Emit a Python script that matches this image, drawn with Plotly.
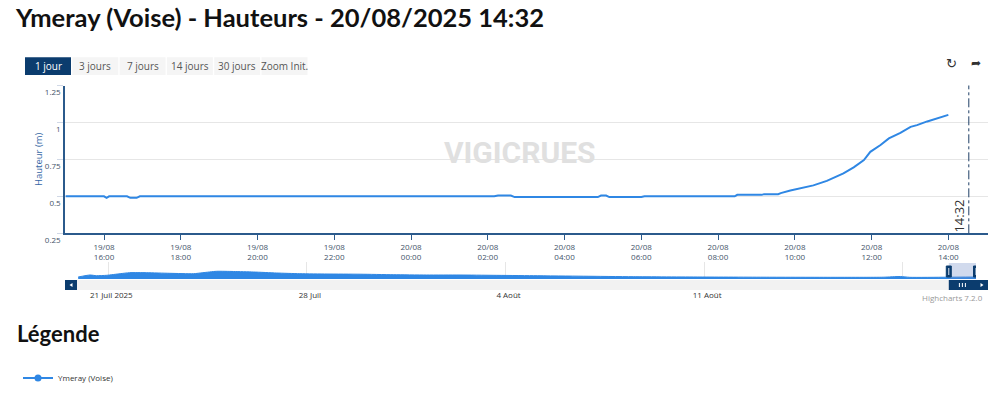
import plotly.graph_objects as go
import pandas as pd

# ---------------- data ----------------
times = [
    "2025-08-19 15:00", "2025-08-19 16:00", "2025-08-19 16:04", "2025-08-19 16:08",
    "2025-08-19 16:36", "2025-08-19 16:41", "2025-08-19 16:51", "2025-08-19 16:56",
    "2025-08-20 02:10", "2025-08-20 02:16", "2025-08-20 02:36", "2025-08-20 02:42",
    "2025-08-20 04:52", "2025-08-20 04:57", "2025-08-20 05:05", "2025-08-20 05:10",
    "2025-08-20 06:00", "2025-08-20 06:05", "2025-08-20 08:26", "2025-08-20 08:30",
    "2025-08-20 09:08", "2025-08-20 09:12", "2025-08-20 09:34", "2025-08-20 09:38",
    "2025-08-20 09:53", "2025-08-20 10:08", "2025-08-20 10:29", "2025-08-20 10:50",
    "2025-08-20 11:16", "2025-08-20 11:32", "2025-08-20 11:48", "2025-08-20 11:58",
    "2025-08-20 12:14", "2025-08-20 12:27", "2025-08-20 12:45", "2025-08-20 13:01",
    "2025-08-20 13:11", "2025-08-20 13:27", "2025-08-20 13:48", "2025-08-20 14:00",
]
heights = [
    0.500, 0.500, 0.490, 0.500,
    0.500, 0.490, 0.490, 0.500,
    0.500, 0.505, 0.505, 0.495,
    0.495, 0.505, 0.505, 0.495,
    0.495, 0.500, 0.500, 0.510,
    0.510, 0.515, 0.515, 0.522,
    0.540, 0.554, 0.574, 0.605,
    0.655, 0.696, 0.745, 0.801,
    0.847, 0.892, 0.930, 0.970,
    0.982, 1.007, 1.034, 1.051,
]

nav_times = [
    "2025-07-19 22:30", "2025-07-20 08:30", "2025-07-20 14:00", "2025-07-20 22:30",
    "2025-07-21 10:00", "2025-07-21 18:00", "2025-07-22 08:30", "2025-07-23 04:00",
    "2025-07-24 00:00", "2025-07-24 08:00", "2025-07-24 19:30", "2025-07-25 10:00",
    "2025-07-26 03:00", "2025-07-26 22:30", "2025-07-27 18:00", "2025-07-28 17:00",
    "2025-07-29 21:00", "2025-07-31 01:00", "2025-08-01 05:00", "2025-08-02 09:30",
    "2025-08-03 13:30", "2025-08-04 23:30", "2025-08-06 18:00", "2025-08-08 12:00",
    "2025-08-10 20:30", "2025-08-13 05:00", "2025-08-15 13:00", "2025-08-17 07:30",
    "2025-08-17 22:00", "2025-08-18 06:00", "2025-08-19 13:00", "2025-08-20 14:00",
]
nav_heights = [
    0.500, 0.600, 0.565, 0.585,
    0.665, 0.715, 0.715, 0.685,
    0.665, 0.715, 0.785, 0.775,
    0.750, 0.700, 0.665, 0.650,
    0.640, 0.615, 0.600, 0.600,
    0.585, 0.565, 0.540, 0.515,
    0.500, 0.490, 0.485, 0.490,
    0.525, 0.485, 0.490, 0.500,
]

x_tick_times = [
    "2025-08-19 16:00", "2025-08-19 18:00", "2025-08-19 20:00", "2025-08-19 22:00",
    "2025-08-20 00:00", "2025-08-20 02:00", "2025-08-20 04:00", "2025-08-20 06:00",
    "2025-08-20 08:00", "2025-08-20 10:00", "2025-08-20 12:00", "2025-08-20 14:00",
]
x_tick_labels = [
    "19/08<br>16:00", "19/08<br>18:00", "19/08<br>20:00", "19/08<br>22:00",
    "20/08<br>00:00", "20/08<br>02:00", "20/08<br>04:00", "20/08<br>06:00",
    "20/08<br>08:00", "20/08<br>10:00", "20/08<br>12:00", "20/08<br>14:00",
]
y_tick_values = [0.25, 0.5, 0.75, 1.0, 1.25]
y_tick_labels = ["0.25", "0.5", "0.75", "1", "1.25"]

nav_tick_times = ["2025-07-21", "2025-07-28", "2025-08-04", "2025-08-11", "2025-08-18"]
nav_tick_labels = ["21 Juil 2025", "28 Juil", "4 Août", "11 Août", ""]

range_buttons = ["1 jour", "3 jours", "7 jours", "14 jours", "30 jours", "Zoom Init."]
now_time = "2025-08-20 14:32"
series_name = "Ymeray (Voise)"
title_text = "Ymeray (Voise) - Hauteurs - 20/08/2025 14:32"

main_range = ["2025-08-19 14:59", "2025-08-20 15:02"]
nav_range = ["2025-07-19 21:30", "2025-08-20 14:00"]

# ---------------- layout helpers (pixel -> paper) ----------------
W, H = 1000, 394
L, R, T, B = 65, 0, 0, 0
PW, PH = W - L - R, H - T - B


def px(x):
    return (x - L) / PW


def py(y):
    return 1 - (y - T) / PH


NAVY = "#0b3c6e"
AXIS = "#2b5a8c"
BLUE = "#2f87e4"
GRID = "#e6e6e6"

fig = go.Figure()

fig.add_trace(go.Scatter(
    x=times, y=heights, mode="lines", name=series_name,
    line=dict(color=BLUE, width=2),
    xaxis="x", yaxis="y", showlegend=False,
))
fig.add_trace(go.Scatter(
    x=nav_times, y=nav_heights, mode="lines", fill="tozeroy",
    fillcolor=BLUE, line=dict(color=BLUE, width=1, shape="spline", smoothing=0.6),
    xaxis="x2", yaxis="y2", showlegend=False, hoverinfo="skip",
))
fig.add_trace(go.Scatter(
    x=[None], y=[None], mode="lines+markers", name=series_name,
    line=dict(color=BLUE, width=2), marker=dict(color=BLUE, size=7),
    xaxis="x", yaxis="y", showlegend=True,
))

fig.update_layout(
    width=W, height=H,
    margin=dict(l=L, r=R, t=T, b=B, autoexpand=False),
    paper_bgcolor="white", plot_bgcolor="white",
    font=dict(family="Open Sans", color="#333"),
    title=dict(text="<b>" + title_text + "</b>", x=16 / W, xref="container", xanchor="left",
               y=1 - 18 / H, yref="container", yanchor="middle",
               font=dict(family="Lato", size=25.5, color="#111")),
    xaxis=dict(
        domain=[px(65), px(988)], range=main_range, type="date",
        tickvals=x_tick_times, ticktext=x_tick_labels,
        ticks="outside", ticklen=5, tickcolor=AXIS, tickwidth=1,
        showline=True, linecolor=AXIS, linewidth=1.5,
        showgrid=False, zeroline=False, automargin=False,
        tickfont=dict(size=8, color="#44546a"), fixedrange=True,
    ),
    yaxis=dict(
        domain=[py(233.3), py(85.5)], range=[0.25, 1.25],
        tickvals=y_tick_values, ticktext=y_tick_labels,
        ticks="outside", ticklen=6, tickcolor="#d0d8e6",
        showline=True, linecolor=AXIS, linewidth=1.5,
        showgrid=True, gridcolor=GRID, gridwidth=1, zeroline=False, automargin=False,
        tickfont=dict(size=8, color="#44546a"), ticklabelshift=7, ticklabelstandoff=-5,
        title=dict(text="Hauteur (m)", font=dict(size=9.5, color="#3567a5"), standoff=0),
        fixedrange=True,
    ),
    xaxis2=dict(
        anchor="y2", domain=[px(77), px(976)], range=nav_range, type="date",
        tickvals=nav_tick_times, ticktext=nav_tick_labels,
        showgrid=True, gridcolor=GRID, gridwidth=1, ticks="",
        showline=False, zeroline=False, automargin=False,
        tickfont=dict(size=8, color="#333"), ticklabelstandoff=10, ticklabelshift=3,
        fixedrange=True,
    ),
    yaxis2=dict(
        anchor="x2", domain=[py(279), py(262)], range=[0.4, 1.25],
        visible=False, fixedrange=True, automargin=False,
    ),
    legend=dict(x=px(18), y=py(378), xanchor="left", yanchor="middle",
                font=dict(size=8, color="#333"), bgcolor="rgba(0,0,0,0)"),
)

shapes = []
annotations = []

# range selector buttons
bx0 = 25
for i, lab in enumerate(range_buttons):
    x0 = bx0 + i * 47.3
    x1 = x0 + 46
    sel = (i == 0)
    shapes.append(dict(type="rect", xref="paper", yref="paper",
                       x0=px(x0), x1=px(x1), y0=py(75), y1=py(57.3),
                       fillcolor=NAVY if sel else "#f5f5f5", line=dict(width=0), layer="below"))
    annotations.append(dict(text=lab, xref="paper", yref="paper",
                            x=px((x0 + x1) / 2), y=py(66), showarrow=False,
                            xanchor="center", yanchor="middle",
                            font=dict(size=10, color="white" if sel else "#555")))

# export / reset icons
annotations.append(dict(text="↻", xref="paper", yref="paper", x=px(951), y=py(63),
                        xshift=8, yshift=9,
                        showarrow=False, font=dict(size=13, color="#333", family="DejaVu Sans")))
annotations.append(dict(text="➦", xref="paper", yref="paper", x=px(975), y=py(63),
                        xshift=8, yshift=9,
                        showarrow=False, font=dict(size=12, color="#333", family="DejaVu Sans")))

# watermark
annotations.append(dict(text="<b>VIGICRUES</b>", xref="paper", yref="paper", x=px(520), y=py(152),
                        showarrow=False, font=dict(size=30, color="#e0e0e0", family="Roboto")))

# current time line
shapes.append(dict(type="line", xref="x", yref="y domain", x0=now_time, x1=now_time, y0=0, y1=1,
                   line=dict(color="#1f3f66", width=1, dash="dashdot")))
annotations.append(dict(text=now_time[-5:], xref="x", yref="y domain", x=now_time, y=0,
                        textangle=-90, xanchor="right", yanchor="bottom", showarrow=False,
                        xshift=1, yshift=-1, font=dict(size=13, color="#333")))

# legend heading
annotations.append(dict(text="<b>Légende</b>", xref="paper", yref="paper", x=px(15), y=py(333),
                        xanchor="left", yanchor="middle", showarrow=False,
                        font=dict(size=22, color="#111", family="Lato")))

# credits
annotations.append(dict(text="Highcharts 7.2.0", xref="paper", yref="paper", x=px(985), y=py(297),
                        xanchor="right", yanchor="middle", showarrow=False,
                        font=dict(size=8, color="#999")))

# navigator mask + handles
sel_start = main_range[0]
sel_end = nav_range[1]
sel_mid = str(pd.Timestamp(sel_start) + (pd.Timestamp(sel_end) - pd.Timestamp(sel_start)) / 2)
shapes.append(dict(type="rect", xref="x2", yref="paper", x0=sel_start, x1=sel_end,
                   y0=py(278.7), y1=py(263), fillcolor="rgba(102,133,194,0.3)", line=dict(width=0)))
for anchor in (sel_start, sel_end):
    shapes.append(dict(type="rect", xref="x2", yref="paper", xsizemode="pixel", xanchor=anchor,
                       x0=-2.5, x1=2.5, y0=py(277), y1=py(266),
                       fillcolor=NAVY, line=dict(color=NAVY, width=1)))
    shapes.append(dict(type="line", xref="x2", yref="paper", xsizemode="pixel", xanchor=anchor,
                       x0=0, x1=0, y0=py(275), y1=py(268), line=dict(color="#dfe6f2", width=1)))

# scrollbar
shapes.append(dict(type="rect", xref="paper", yref="paper", x0=px(65), x1=px(988),
                   y0=py(290), y1=py(280), fillcolor="#f2f2f2", line=dict(width=0)))
shapes.append(dict(type="rect", xref="x2", yref="paper", x0=sel_start, x1=sel_end,
                   y0=py(290), y1=py(280), fillcolor=NAVY, line=dict(width=0)))
for dx in (-3, 0, 3):
    shapes.append(dict(type="line", xref="x2", yref="paper", xsizemode="pixel", xanchor=sel_mid,
                       x0=dx, x1=dx, y0=py(287), y1=py(283), line=dict(color="white", width=1)))
shapes.append(dict(type="rect", xref="paper", yref="paper", x0=px(65), x1=px(77),
                   y0=py(290), y1=py(280), fillcolor=NAVY, line=dict(width=0)))
shapes.append(dict(type="rect", xref="paper", yref="paper", x0=px(976), x1=px(988),
                   y0=py(290), y1=py(280), fillcolor=NAVY, line=dict(width=0)))
shapes.append(dict(type="path", xref="paper", yref="paper",
                   path=f"M{px(69.5)},{py(285)} L{px(72.5)},{py(283)} L{px(72.5)},{py(287)} Z",
                   fillcolor="white", line=dict(width=0)))
shapes.append(dict(type="path", xref="paper", yref="paper",
                   path=f"M{px(983.5)},{py(285)} L{px(980.5)},{py(283)} L{px(980.5)},{py(287)} Z",
                   fillcolor="white", line=dict(width=0)))

fig.update_layout(shapes=shapes, annotations=annotations)

fig.write_html("out.html")
